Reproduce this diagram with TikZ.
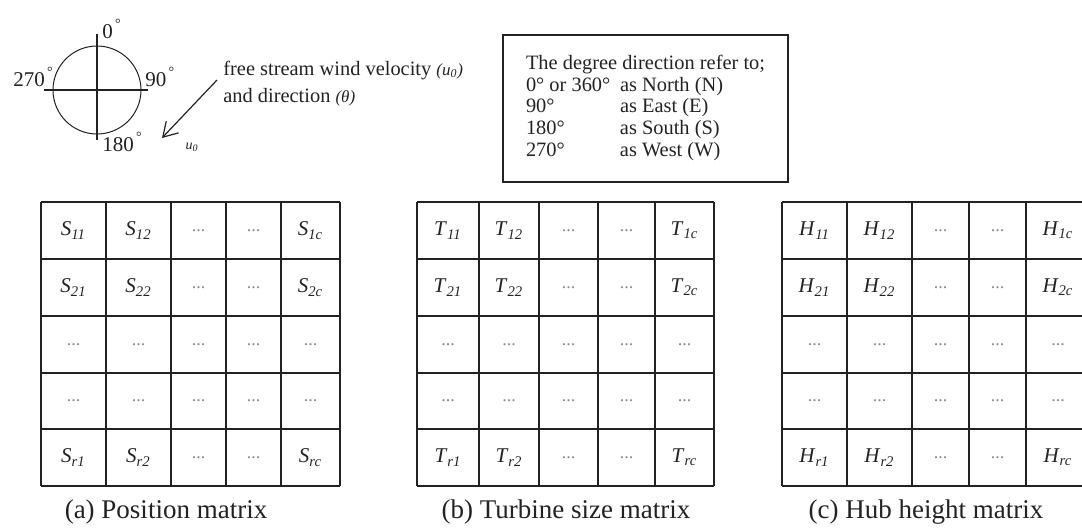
\documentclass[tikz,border=0pt]{standalone}
\usepackage{fontspec}
\setmainfont{Liberation Serif}
\usepackage{xcolor}
\usepackage{tikz}
\usetikzlibrary{arrows.meta,positioning}
\definecolor{ink}{HTML}{222222}
\definecolor{dotgray}{HTML}{8A8A8A}
\newcommand{\ent}[2]{\textit{#1}\textsubscript{\textit{#2}}}
\newcommand{\dg}{\raisebox{1.0ex}{\fontsize{7}{8}\selectfont\,°}}
% one r x c matrix: letter, all column lines, thick ones, thin ones
\newcommand{\matgrid}[4]{%
  \def\xs{{#2}}
  \def\ys{{202,259,316,373,429,486}}
  \pgfmathsetmacro{\xa}{\xs[0]}
  \pgfmathsetmacro{\xb}{\xs[5]}
  \foreach \y in {316,373}{ \draw[gridthin] (\xa,\y) -- (\xb,\y); }
  \foreach \x in {#4}{ \draw[gridthin] (\x,202) -- (\x,486); }
  \foreach \y in {202,259,429,486}{ \draw[gridthick] (\xa,\y) -- (\xb,\y); }
  \foreach \x in {#3}{ \draw[gridthick] (\x,202) -- (\x,486); }
  \foreach \i/\ri in {1/1,2/2,3/,4/,5/r}{
    \foreach \j/\cj in {1/1,2/2,3/,4/,5/c}{
      \pgfmathsetmacro{\cx}{0.5*(\xs[\j-1]+\xs[\j])}
      \pgfmathsetmacro{\cy}{0.5*(\ys[\i-1]+\ys[\i])}
      \pgfmathtruncatemacro{\isdots}{or(and(\i>2,\i<5),and(\j>2,\j<5))}
      \ifnum\isdots=1
        \node[dots] (#1-\i-\j) at (\cx,\cy) {...};
      \else
        \node[cell] (#1-\i-\j) at (\cx,\cy) {\ent{#1}{\ri\cj}};
      \fi
    }
  }
}
\tikzset{
  gridthick/.style={line width=1.4pt,draw=ink},
  gridthin/.style={line width=0.6pt,draw=ink},
  cell/.style={font=\fontsize{10.5}{12}\selectfont,text=ink,inner sep=1pt},
  dots/.style={font=\fontsize{9}{10}\selectfont,text=dotgray,inner sep=1pt},
  caption/.style={font=\fontsize{13.5}{16}\selectfont,text=ink},
  note/.style={font=\fontsize{10.2}{13.5}\selectfont,text=ink,align=left,inner sep=0pt},
  legbox/.style={draw=ink,line width=0.7pt,inner sep=0pt,minimum width=142.5pt,
    minimum height=73.5pt,font=\fontsize{10.2}{10.9}\selectfont,text=ink},
  deg/.style={font=\fontsize{10.5}{12}\selectfont,text=ink,inner sep=0pt},
  windarr/.style={-{Straight Barb[length=7pt,width=8.5pt]},line width=0.6pt,draw=ink},
}

\begin{document}
\begin{tikzpicture}[x=0.5pt,y=-0.5pt]
  \path[use as bounding box,clip] (0,0) rectangle (1082,527);
  % compass
  \coordinate (ctr) at (97,90);
  \draw[line width=0.5pt,draw=ink] (ctr) circle[radius=44];
  \draw[line width=0.6pt,draw=ink] (97,34) -- (97,140);
  \draw[line width=0.6pt,draw=ink] (44,90) -- (148,90);
  \node[deg,anchor=base west] (n0) at (102,38) {0\dg};
  \node[deg,anchor=base west] (n90) at (145,86) {90\dg};
  \node[deg,anchor=base west] (n180) at (102,151) {180\dg};
  \node[deg,anchor=base west] (n270) at (13,86) {270\dg};
  % wind
  \coordinate (wfrom) at (217,80);
  \coordinate (wto) at (162,138);
  \draw[windarr] (wfrom) -- (wto);
  \node[font=\fontsize{7}{8}\selectfont,text=ink] (u0) at (192,147) {\ent{u}{0}};
  \node[note,anchor=west] (wind) at (223,83.5)
    {free stream wind velocity {\fontsize{8.5}{10}\selectfont\textit{(u\textsubscript{0})}}\\
     and direction {\fontsize{8.5}{10}\selectfont\textit{(θ)}}};
  % legend box
  \node[legbox] (legend) at (645.5,108.5) {%
    \begin{tabular}{@{}p{47pt}@{}l@{}}
      \multicolumn{2}{@{}l@{}}{The degree direction refer to;}\\
      0° or 360° & as North (N)\\
      90° & as East (E)\\
      180° & as South (S)\\
      270° & as West (W)
    \end{tabular}};
  % matrices
  \matgrid{S}{41,106,171,226,281,340}{41,171,281,340}{106,226}
  \matgrid{T}{417,479,539,598,655,714}{417,479,598,655,714}{539}
  \matgrid{H}{782,847,912,969,1026,1090}{782,1026,1090}{847,912,969}
  \node[caption] (capa) at (166,512) {(a) Position matrix};
  \node[caption] (capb) at (566,512) {(b) Turbine size matrix};
  \node[caption] (capc) at (926,512) {(c) Hub height matrix};
\end{tikzpicture}
\end{document}
